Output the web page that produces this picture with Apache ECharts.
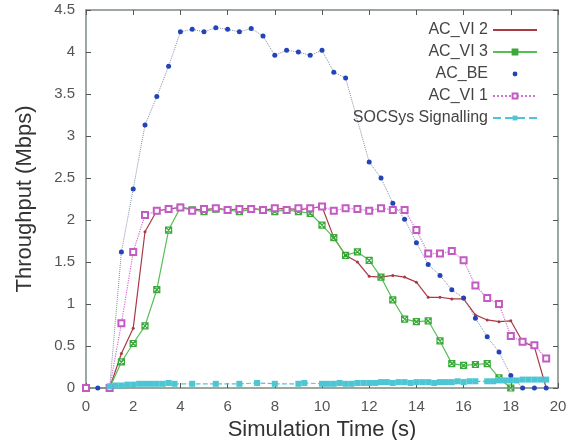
<!DOCTYPE html>
<html><head><meta charset="utf-8">
<script src="https://cdn.jsdelivr.net/npm/echarts@6/dist/echarts.min.js"></script>
<style>html,body{margin:0;padding:0;background:#fff}#c{width:568px;height:440px}</style>
</head><body><div id="c"></div>
<script>
var xTicks = [0,2,4,6,8,10,12,14,16,18,20];
var yTicks = [0,0.5,1,1.5,2,2.5,3,3.5,4,4.5];

var vi2X = [0,1,1.5,2,2.5,3,3.5,4,4.5,5,5.5,6,6.5,7,7.5,8,8.5,9,9.5,10,10.5,11,11.5,12,12.5,13,13.5,14,14.5,15,15.5,16,16.5,17,17.5,18,18.5,19,19.5];
var vi2Y = [0,0,0.41,0.71,1.86,2.11,2.13,2.15,2.13,2.12,2.14,2.12,2.13,2.14,2.12,2.13,2.14,2.12,2.14,2.16,1.79,1.58,1.50,1.33,1.32,1.34,1.32,1.26,1.08,1.08,1.06,1.06,0.87,0.81,0.79,0.80,0.55,0.49,0];

var vi3X = [0,1,1.5,2,2.5,3,3.5,4,4.5,5,5.5,6,6.5,7,7.5,8,8.5,9,9.5,10,10.5,11,11.5,12,12.5,13,13.5,14,14.5,15,15.5,16,16.5,17,17.5,18];
var vi3Y = [0,0,0.31,0.53,0.74,1.17,1.88,2.15,2.12,2.10,2.13,2.12,2.10,2.13,2.12,2.10,2.12,2.10,2.08,1.94,1.79,1.58,1.62,1.52,1.32,1.05,0.82,0.79,0.80,0.56,0.29,0.27,0.28,0.29,0.12,0];

var beX = [0,0.5,1,1.5,2,2.5,3,3.5,4,4.5,5,5.5,6,6.5,7,7.5,8,8.5,9,9.5,10,10.5,11,12,12.5,13,13.5,14,14.5,15,15.5,16,16.5,17,17.5,18,18.5,19,19.5];
var beY = [0,0,0,1.62,2.37,3.13,3.47,3.83,4.24,4.27,4.24,4.29,4.27,4.24,4.28,4.19,3.96,4.02,4.00,3.96,4.02,3.76,3.69,2.69,2.50,2.20,2.01,1.73,1.47,1.34,1.17,1.07,0.83,0.61,0.43,0.15,0,0,0];

var vi1X = [0,1,1.5,2,2.5,3,3.5,4,4.5,5,5.5,6,6.5,7,7.5,8,8.5,9,9.5,10,10.5,11,11.5,12,12.5,13,13.5,14,14.5,15,15.5,16,16.5,17,17.5,18,18.5,19,19.5];
var vi1Y = [0,0,0.77,1.62,2.06,2.11,2.13,2.15,2.11,2.13,2.14,2.12,2.13,2.13,2.12,2.14,2.12,2.14,2.14,2.16,2.11,2.14,2.13,2.11,2.14,2.12,2.12,1.88,1.60,1.60,1.63,1.52,1.22,1.07,1.00,0.62,0.55,0.51,0.35];

var socX = [1,1.25,1.5,1.75,2,2.25,2.5,2.75,3,3.25,3.5,3.75,4.5,5.5,6.5,7.25,8,9,9.25,10,10.25,10.5,10.75,11,11.25,11.5,11.75,12,12.25,12.5,12.75,13,13.25,13.5,13.75,14,14.25,14.5,14.75,15,15.25,15.5,15.75,16,16.25,16.5,17,17.25,17.5,17.75,18,18.25,18.5,18.75,19,19.25,19.5];
var socY = [0.02,0.03,0.03,0.04,0.04,0.05,0.05,0.05,0.05,0.05,0.06,0.05,0.05,0.05,0.05,0.06,0.05,0.05,0.06,0.05,0.05,0.05,0.06,0.05,0.05,0.06,0.06,0.06,0.06,0.07,0.07,0.06,0.07,0.07,0.06,0.07,0.07,0.07,0.06,0.07,0.07,0.07,0.08,0.07,0.08,0.08,0.08,0.08,0.09,0.09,0.09,0.09,0.10,0.10,0.10,0.10,0.10];

function pairs(xs, ys){ return xs.map(function(x,i){ return [x, ys[i]]; }); }

var axisCol = '#7d8a80';
var font = 'Liberation Sans, Arial, sans-serif';
var chart = echarts.init(document.getElementById('c'), null, {renderer:'canvas'});
var xBase = {type:'value', min:0, max:20, interval:2,
  axisLine:{show:true, onZero:false, lineStyle:{color:axisCol, width:1.5}},
  axisTick:{show:true, inside:true, length:5, lineStyle:{color:'#555'}},
  splitLine:{show:false}};
var yBase = {type:'value', min:0, max:4.5, interval:0.5,
  axisLine:{show:true, onZero:false, lineStyle:{color:axisCol, width:1.5}},
  axisTick:{show:true, inside:true, length:5, lineStyle:{color:'#555'}},
  splitLine:{show:false}};
var labStyle = {color:'#555', fontSize:15, fontFamily:font};

chart.setOption({
  animation:false,
  backgroundColor:'#fff',
  grid:{left:86, right:10, top:10, bottom:52, containLabel:false, outerBoundsMode:'none'},
  legend:{
    orient:'vertical', right:25, top:17, align:'right',
    itemWidth:44, itemHeight:6, itemGap:6,
    textStyle:{color:'#444', fontSize:16, fontFamily:font},
    data:[
      {name:'AC_VI 2', itemStyle:{opacity:0}},
      {name:'AC_VI 3'},
      {name:'AC_BE', lineStyle:{opacity:0}},
      {name:'AC_VI 1'},
      {name:'SOCSys Signalling'}
    ]
  },
  xAxis:[
    Object.assign({}, xBase, {position:'bottom', name:'Simulation Time (s)', nameLocation:'middle', nameGap:30,
      nameTextStyle:{color:'#333', fontSize:22, fontFamily:font},
      axisLabel:Object.assign({margin:11, formatter:function(v){ return xTicks.indexOf(v)>=0 ? String(v) : ''; }}, labStyle)}),
    Object.assign({}, xBase, {position:'top', axisLabel:{show:false}})
  ],
  yAxis:[
    Object.assign({}, yBase, {position:'left', name:'Throughput (Mbps)', nameLocation:'middle', nameGap:50,
      nameTextStyle:{color:'#333', fontSize:22, fontFamily:font},
      axisLabel:Object.assign({margin:11, formatter:function(v){ return yTicks.indexOf(v)>=0 ? String(v) : ''; }}, labStyle)}),
    Object.assign({}, yBase, {position:'right', axisLabel:{show:false}})
  ],
  series:[
    {name:'AC_VI 2', type:'line', data:pairs(vi2X, vi2Y), color:'#a83a46',
      symbol:'circle', symbolSize:3, lineStyle:{width:1.2, color:'#a83a46'}, itemStyle:{color:'#a83a46'}},
    {name:'AC_VI 3', type:'line', data:pairs(vi3X, vi3Y), color:'#4cbb4c',
      symbol:'path://M0,0L10,10M10,0L0,10M0,0L10,0L10,10L0,10Z', symbolSize:6,
      lineStyle:{width:1.2, color:'#55c055'}, itemStyle:{color:'rgba(0,0,0,0)', borderColor:'#3aa83a', borderWidth:1.2}},
    {name:'AC_BE', type:'line', data:pairs(beX, beY), color:'#2344b8',
      symbol:'circle', symbolSize:5, lineStyle:{width:1, type:'dotted', color:'#8090a8'}, itemStyle:{color:'#2344b8'}},
    {name:'AC_VI 1', type:'line', data:pairs(vi1X, vi1Y), color:'#c45ac4',
      symbol:'emptyRect', symbolSize:6, lineStyle:{width:1.2, type:'dotted', color:'#d070d0'}, itemStyle:{color:'#c45ac4', borderWidth:1.2}},
    {name:'SOCSys Signalling', type:'line', data:pairs(socX, socY), color:'#4cc6d2',
      symbol:'rect', symbolSize:6, lineStyle:{width:1.2, type:'dashed', color:'#4cc6d2'}, itemStyle:{color:'#4cc6d2'}}
  ]
});
</script></body></html>
